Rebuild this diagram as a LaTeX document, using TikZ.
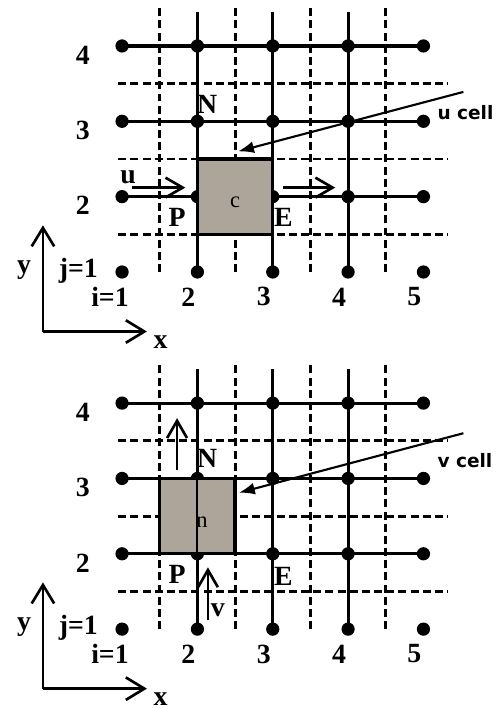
\documentclass[tikz,border=0pt]{standalone}
\usepackage{fontspec}
\setmainfont{Liberation Serif}
\newfontfamily\tagfont{DejaVu Sans}
\usetikzlibrary{arrows.meta}
\definecolor{cellgrey}{RGB}{174,165,154}
\tikzset{
	dot/.style={circle, fill, inner sep=0pt, minimum size=5pt},
	mesh/.style={line width=1.2pt},
	face/.style={line width=1.1pt, dash pattern=on 3pt off 1.6pt},
	cellbox/.style={fill=cellgrey, draw, line width=1.2pt, inner sep=0pt, minimum width=1cm, minimum height=1cm},
	lbl/.style={font=\fontsize{10.5}{12}\selectfont\bfseries, inner sep=0pt},
	sml/.style={font=\fontsize{8.5}{9}\selectfont, inner sep=0pt},
	tag/.style={font=\tagfont\bfseries\fontsize{7}{8}\selectfont, anchor=west, inner sep=0pt},
	vel/.style={line width=1pt, -{Straight Barb[length=6.5pt,width=7.5pt]}},
	axis/.style={line width=1pt, -{Straight Barb[length=7pt,width=8.5pt]}},
	pointer/.style={line width=0.8pt, -{Latex[length=6pt,width=4.5pt]}}
}
\begin{document}
\begin{tikzpicture}
		\useasboundingbox (-0.62,-4.80) rectangle (5.98,4.61);

		% the same staggered grid in both halves
		\foreach \p/\s in {t/0,b/-4.74}{
		\begin{scope}[yshift=\s cm]
		\foreach \k in {1.5,2.5,3.5,4.5} \draw[face] (\k,1) -- (\k,4.52);
		\foreach \k in {1.5,2.5,3.5} \draw[face] (0.95,\k) -- (5.32,\k);
		\foreach \i in {1,...,5} \foreach \j in {1,...,4} \node[dot] (\p\i\j) at (\i,\j) {};
		\foreach \j in {2,3,4} \draw[mesh] (\p1\j.center) -- (\p5\j.center);
		\foreach \i in {2,3,4} \draw[mesh] (\p\i1.center) -- (\i,4.45);
		\foreach \j in {2,3,4} \node[lbl] (\p row\j) at (0.48,\j-0.12) {\j};
		\foreach \i in {2,...,5} \node[lbl] (\p col\i) at (\i-0.12,0.67) {\i};
		\node[lbl] (\p col1) at (0.84,0.67) {i=1};
		\node[lbl] (\p row1) at (0.42,1.02) {j=1};
		\coordinate (\p o) at (-0.05,0.21);
		\coordinate (\p ytop) at (-0.05,1.62);
		\coordinate (\p xend) at (1.33,0.21);
		\draw[axis] (\p o) -- (\p ytop);
		\draw[axis] (\p o) -- (\p xend);
		\node[lbl] (\p y) at (-0.30,1.03) {y};
		\node[lbl] (\p x) at (1.51,0.07) {x};
		\end{scope}
		}

		% u cell
		\node[cellbox] (ucell) at (2.5,2) {};
		\node[sml] (c) at (2.5,1.93) {c};
		\node[lbl] (tN) at (2.13,3.22) {N};
		\node[lbl] (tP) at (1.73,1.73) {P};
		\node[lbl] (tE) at (3.14,1.72) {E};
		\node[lbl] (u) at (1.08,2.26) {u};
		\coordinate (uw) at (1.13,2.12);
		\coordinate (ue) at (1.84,2.12);
		\coordinate (uw2) at (3.14,2.12);
		\coordinate (ue2) at (3.83,2.12);
		\draw[vel] (uw) -- (ue);
		\draw[vel] (uw2) -- (ue2);
		\node[tag] (utag) at (5.18,3.11) {u cell};
		\coordinate (utail) at (5.53,3.39);
		\draw[pointer] (utail) -- ([xshift=0.4mm,yshift=0.8mm]ucell.north);

		% v cell
		\begin{scope}[yshift=-4.74cm]
		\node[cellbox] (vcell) at (2,2.5) {};
		\draw[line width=0.7pt] (vcell.north) -- (vcell.south);
		\node[sml] (n) at (2.06,2.42) {n};
		\node[lbl] (bN) at (2.13,3.27) {N};
		\node[lbl] (bP) at (1.73,1.72) {P};
		\node[lbl] (bE) at (3.14,1.70) {E};
		\node[lbl] (v) at (2.27,1.25) {v};
		\coordinate (vs) at (1.73,3.11);
		\coordinate (vn) at (1.73,3.80);
		\coordinate (vs2) at (2.14,1.12);
		\coordinate (vn2) at (2.14,1.82);
		\draw[vel] (vs) -- (vn);
		\draw[vel] (vs2) -- (vn2);
		\node[tag] (vtag) at (5.18,3.24) {v cell};
		\coordinate (vtail) at (5.53,3.60);
		\draw[pointer] (vtail) -- ([xshift=0.3mm,yshift=3.1mm]vcell.east);
		\end{scope}
\end{tikzpicture}
\end{document}
